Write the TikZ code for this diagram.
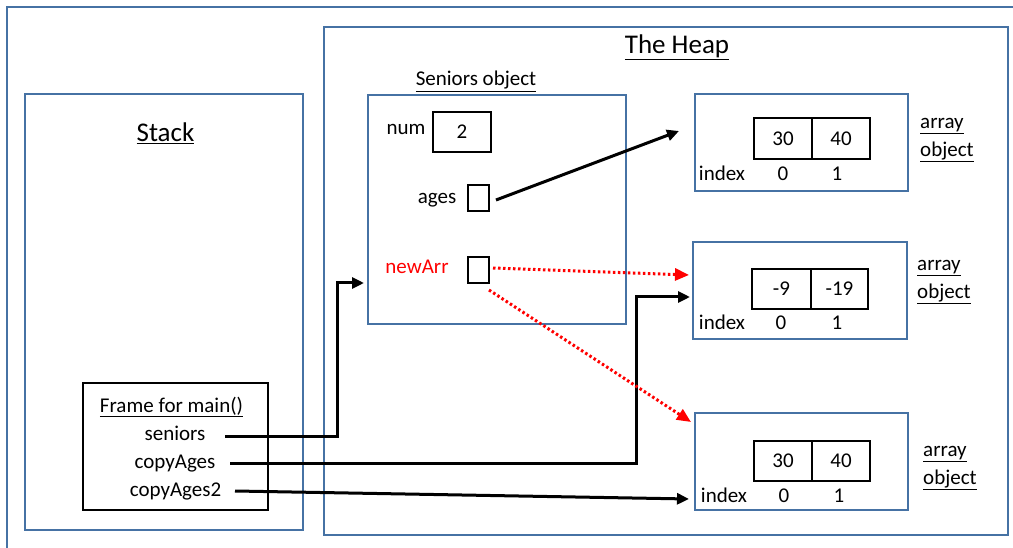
\documentclass[tikz,border=0pt]{standalone}
\usepackage{fontspec}
\setmainfont{Carlito}
\usetikzlibrary{arrows.meta}
\definecolor{boxblue}{RGB}{70,114,164}
\begin{document}
\begin{tikzpicture}[x=1pt,y=-1pt,
  blueframe/.style={draw=boxblue,line width=2.2pt,inner sep=0pt},
  blackbox/.style={draw=black,line width=2.4pt,inner sep=0pt},
  txt/.style={inner sep=0pt,font=\fontsize{21}{28}\selectfont,text height=16pt,text depth=2pt},
  lbl/.style={inner sep=0pt,font=\fontsize{21}{28}\selectfont,anchor=west,align=left},
  ttl/.style={inner sep=0pt,font=\fontsize{27}{32}\selectfont},
  ptr/.style={line width=3pt,-{Triangle[length=12pt,width=11pt]}},
  redptr/.style={red,line width=3pt,dash pattern=on 2.5pt off 2.5pt,-{Triangle[length=14pt,width=12pt]}},
]
\useasboundingbox (0,0) rectangle (1013,548);
% outer frame (clipped at right and bottom)
\draw[boxblue,line width=2.2pt] (1013,7) -- (7,7) -- (7,548);

% main containers
\node[blueframe,minimum width=684pt,minimum height=508pt] (heap) at (666,281) {};
\node[blueframe,minimum width=278pt,minimum height=436pt] (stack) at (164,312) {};
\node[ttl] (heapt) at (677,47) {\underline{The Heap}};
\node[ttl] (stackt) at (165.5,133) {\underline{Stack}};

% Seniors object
\node[txt] (sot) at (476,79) {\underline{Seniors object}};
\node[blueframe,minimum width=258pt,minimum height=229pt] (sbox) at (497,209.5) {};
\node[txt] (numl) at (406,128) {num};
\node[blackbox,minimum width=58pt,minimum height=40pt,font=\fontsize{21}{28}\selectfont] (numb) at (462,132) {2};
\node[txt] (agesl) at (437,197) {ages};
\node[blackbox,minimum width=21pt,minimum height=26pt] (agesb) at (478.5,198) {};
\node[txt,text=red] (newl) at (417,267) {newArr};
\node[blackbox,minimum width=21pt,minimum height=26pt] (newb) at (478.5,270) {};

% Frame for main()
\node[blackbox,minimum width=185pt,minimum height=127pt] (frame) at (175.5,446.5) {};
\node[txt] (ft) at (171.5,405) {\underline{Frame for main()}};
\node[txt] (vsen) at (175,433) {seniors};
\node[txt] (vca) at (175,461) {copyAges};
\node[txt] (vca2) at (175.5,489) {copyAges2};

% array 1
\node[blueframe,minimum width=213pt,minimum height=97pt] (a1) at (801.5,142.5) {};
\node[blackbox,minimum width=58pt,minimum height=41pt,font=\fontsize{21}{28}\selectfont] (a1c0) at (783,138.5) {30};
\node[blackbox,minimum width=58pt,minimum height=41pt,font=\fontsize{21}{28}\selectfont] (a1c1) at (841,138.5) {40};
\node[txt] (a1i) at (722,174) {index};
\node[txt] (a1i0) at (783,174) {0};
\node[txt] (a1i1) at (837,174) {1};
\node[lbl] (a1l) at (920,140) {\underline{array}\\\underline{object}};

% array 2
\node[blueframe,minimum width=214pt,minimum height=97pt] (a2) at (800,290.5) {};
\node[blackbox,minimum width=59pt,minimum height=40pt,font=\fontsize{21}{28}\selectfont] (a2c0) at (781.5,289) {-9};
\node[blackbox,minimum width=57pt,minimum height=40pt,font=\fontsize{21}{28}\selectfont] (a2c1) at (839.5,289) {-19};
\node[txt] (a2i) at (722,323) {index};
\node[txt] (a2i0) at (781,323) {0};
\node[txt] (a2i1) at (837,323) {1};
\node[lbl] (a2l) at (917,282) {\underline{array}\\\underline{object}};

% array 3
\node[blueframe,minimum width=213pt,minimum height=97pt] (a3) at (801.5,461.5) {};
\node[blackbox,minimum width=58pt,minimum height=40pt,font=\fontsize{21}{28}\selectfont] (a3c0) at (783,461) {30};
\node[blackbox,minimum width=58pt,minimum height=40pt,font=\fontsize{21}{28}\selectfont] (a3c1) at (841,461) {40};
\node[txt] (a3i) at (724,495) {index};
\node[txt] (a3i0) at (784,495) {0};
\node[txt] (a3i1) at (839,495) {1};
\node[lbl] (a3l) at (923,468) {\underline{array}\\\underline{object}};

% connector end points
\coordinate (ps) at (225,436);
\coordinate (pca) at (230,463);
\coordinate (pca2) at (235,491);
\coordinate (sin) at (364,283);
\coordinate (a2in) at (690,297);
\coordinate (a3in) at (689,499);
\coordinate (agesout) at (496,200);
\coordinate (a1in) at (679,131);
\coordinate (newout1) at (493,268);
\coordinate (a2in2) at (689,275);
\coordinate (newout2) at (489,290);
\coordinate (a3in2) at (691,422);

% connectors
\draw[ptr] (ps) -- (337,436) -- (337,283) -- (sin);
\draw[ptr] (pca) -- (636,463) -- (636,297) -- (a2in);
\draw[ptr] (pca2) -- (a3in);
\draw[ptr] (agesout) -- (a1in);
\draw[redptr] (newout1) -- (a2in2);
\draw[redptr] (newout2) -- (a3in2);
\end{tikzpicture}
\end{document}
